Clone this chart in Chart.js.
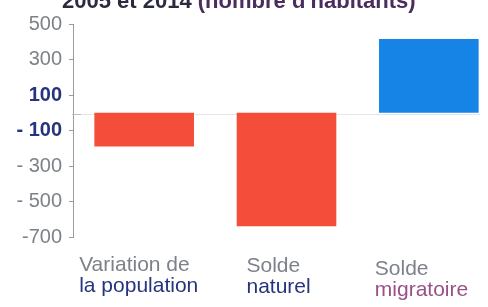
<!DOCTYPE html>
<html>
<head>
<meta charset="utf-8">
<script src="https://cdn.jsdelivr.net/npm/chart.js@4"></script>
<style>
  html, body { margin: 0; padding: 0; background: #fff; overflow: hidden; }
  #wrap { width: 500px; height: 307px; }
</style>
</head>
<body>
<div id="wrap"><canvas id="chart"></canvas></div>
<script>
// donnees
const categories = ['Variation de la population', 'Solde naturel', 'Solde migratoire'];
const labelLine1 = ['Variation de', 'Solde', 'Solde'];
const labelLine2 = ['la population', 'naturel', 'migratoire'];
const values = [-190, -640, 415];
const tickValues = [500, 300, 100, -100, -300, -500, -700];
const tickLabels = ['500', '300', '100', '- 100', '- 300', '- 500', '-700'];
const titleText = ['2005 et 2014 ', "(nombre d'habitants)"];

const RED = 'rgb(244, 78, 58)';
const BLUE = 'rgb(22, 132, 230)';
const NAVY = '#25347c';
const GREY = '#7d818a';
const FONT = '"Liberation Sans", Arial, sans-serif';

function isHundred(ctx) {
    return !!(ctx && ctx.tick && Math.abs(ctx.tick.value) === 100);
}

// titre coupe en haut, ligne du zero (sous les barres), et libelles de categories
const extras = {
    id: 'extras',
    beforeDatasetsDraw(chart) {
        const ctx = chart.ctx;
        const y0 = Math.round(chart.scales.y.getPixelForValue(0)) + 1.5;
        ctx.save();
        ctx.lineWidth = 1;
        ctx.strokeStyle = '#b9bcc2';
        ctx.beginPath();
        ctx.moveTo(chart.chartArea.left - 1, y0);
        ctx.lineTo(chart.chartArea.left + 8, y0);
        ctx.stroke();
        ctx.strokeStyle = '#e4e6ea';
        ctx.beginPath();
        ctx.moveTo(chart.chartArea.left + 8, y0);
        ctx.lineTo(chart.chartArea.right - 20, y0);
        ctx.stroke();
        ctx.restore();
    },
    afterDraw(chart) {
        const ctx = chart.ctx;
        const x = chart.scales.x;
        ctx.save();
        // titre
        ctx.font = 'bold 22px ' + FONT;
        ctx.textBaseline = 'alphabetic';
        ctx.textAlign = 'left';
        let tx = 62;
        ctx.fillStyle = '#2b2b40';
        ctx.fillText(titleText[0], tx, 8);
        tx += ctx.measureText(titleText[0]).width;
        ctx.fillStyle = '#4a2d5e';
        ctx.fillText(titleText[1], tx, 8);

        // libelles
        const offs = [-65, -40, -54];
        const drop = [0, 1, 4];
        const col2 = [NAVY, NAVY, '#9a4f86'];
        ctx.font = '21px ' + FONT;
        labelLine1.forEach((t, i) => {
            const cx = x.getPixelForValue(i) + offs[i];
            ctx.fillStyle = GREY;
            ctx.fillText(t, cx, 271 + drop[i]);
            ctx.fillStyle = col2[i];
            ctx.fillText(labelLine2[i], cx, 292 + drop[i]);
        });
        ctx.restore();
    }
};

new Chart(document.getElementById('chart'), {
    type: 'bar',
    data: {
        labels: categories,
        datasets: [{
            data: values,
            backgroundColor: values.map(v => v < 0 ? RED : BLUE),
            borderWidth: 0,
            barPercentage: 0.7,
            categoryPercentage: 1
        }]
    },
    options: {
        responsive: true,
        maintainAspectRatio: false,
        animation: false,
        layout: { padding: { top: 24, bottom: 70, right: 0, left: 0 } },
        plugins: { legend: { display: false }, tooltip: { enabled: false } },
        scales: {
            x: { display: false },
            y: {
                min: -700,
                max: 500,
                afterBuildTicks: axis => { axis.ticks = tickValues.map(v => ({ value: v })); },
                afterFit: axis => { axis.width = 73; },
                border: { display: true, color: '#9a9ca3', width: 1 },
                grid: { drawOnChartArea: false, tickLength: 4, color: '#9a9ca3' },
                ticks: {
                    padding: 7,
                    callback: (v, i) => tickLabels[tickValues.indexOf(v)],
                    color: ctx => (isHundred(ctx) ? NAVY : GREY),
                    font: ctx => ({
                        family: FONT,
                        size: 20,
                        weight: isHundred(ctx) ? 'bold' : 'normal'
                    })
                }
            }
        }
    },
    plugins: [extras]
});
</script>
</body>
</html>
